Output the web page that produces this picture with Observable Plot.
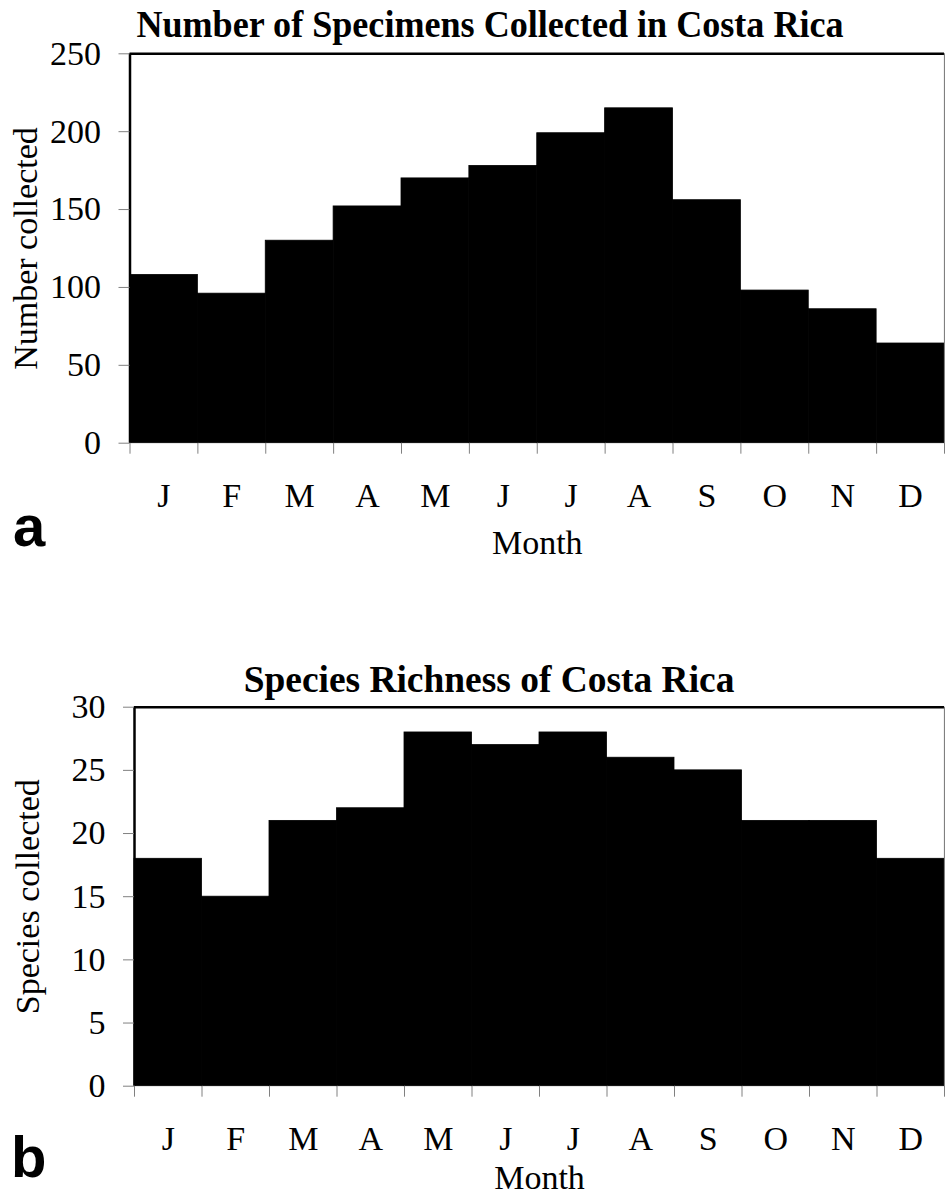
<!DOCTYPE html>
<html><head><meta charset="utf-8">
<script src="https://cdn.jsdelivr.net/npm/d3@7"></script>
<script src="https://cdn.jsdelivr.net/npm/@observablehq/plot@0.6"></script>
<style>
body{margin:0;background:#fff;}
#page{position:relative;width:945px;height:1196px;overflow:hidden;font-family:"Liberation Serif",serif;background:#fff;}
.title{position:absolute;white-space:nowrap;font-weight:bold;font-size:38px;line-height:1;transform-origin:center;}
.tag{position:absolute;font-family:"Liberation Sans",Arial,sans-serif;font-weight:bold;font-size:58px;line-height:1;}
.panel{position:absolute;left:0;}
</style></head>
<body><div id="page">
<div class="title" id="ta" style="left:490px;top:5px;transform:translateX(-50%) scaleX(0.95);">Number of Specimens Collected in Costa Rica</div>
<div class="panel" id="pa" style="top:0px;"></div>
<div class="tag" style="left:13px;top:497px;">a</div>
<div class="title" id="tb" style="left:489px;top:660px;transform:translateX(-50%) scaleX(0.985);">Species Richness of Costa Rica</div>
<div class="panel" id="pb" style="top:600px;"></div>
<div class="tag" style="left:11px;top:1128px;">b</div>
</div>
<script>
const months = ["J","F","M","A","M","J","J","A","S","O","N","D"];
const specimens = [108,96,130,152,170,178,199,215,156,98,86,64];
const richness = [18,15,21,22,28,27,28,26,25,21,21,18];
const yTicksA = [0,50,100,150,200,250];
const yTicksB = [0,5,10,15,20,25,30];

function panel({values, yTicks, yLabel, height, mt, mb, ml, yLabelOffset, xLabelOffset}) {
  const yMax = yTicks[yTicks.length-1];
  const data = values.map((v,i)=>({i, v}));
  return Plot.plot({
    width:945, height, marginTop: mt, marginBottom: mb, marginLeft: ml, marginRight: 1,
    style:{fontFamily:"'Liberation Serif', serif", fontSize:"34px", color:"#000", background:"transparent", overflow:"visible"},
    x:{domain:[0,12]},
    y:{domain:[0,yMax]},
    marks:[
      Plot.rect(data,{x1:"i", x2: d=>d.i+1, y1:0, y2:"v", fill:"#000", stroke:"#000", strokeWidth:0.8}),
      Plot.ruleY([yMax],{stroke:"#000", strokeWidth:2.5}),
      Plot.ruleX([0],{stroke:"#000", strokeWidth:2.5}),
      Plot.ruleX([12],{stroke:"#808080", strokeWidth:1.2}),
      Plot.axisY({ticks: yTicks, tickSize:11, tickPadding:18, stroke:"#808080", label: yLabel, labelAnchor:"center", labelArrow:"none", labelOffset: yLabelOffset}),
      Plot.axisX({ticks: d3.range(0,13), tickSize:11, tickFormat: ()=>"", stroke:"#808080", label:null}),
      Plot.axisX({ticks: d3.range(0,12).map(i=>i+0.5), tickSize:0, tickPadding:40, tickFormat: d=>months[Math.floor(d)], label:"Month", labelAnchor:"center", labelArrow:"none", labelOffset: xLabelOffset})
    ]
  });
}

document.getElementById("pa").append(panel({values:specimens, yTicks:yTicksA, yLabel:"Number collected", height:600, mt:53.3, mb:600-442.7, ml:129.5, yLabelOffset:117, xLabelOffset:111}));
document.getElementById("pb").append(panel({values:richness, yTicks:yTicksB, yLabel:"Species collected", height:596, mt:106.7, mb:596-485.7, ml:134, yLabelOffset:120, xLabelOffset:103}));
</script>
</body></html>
